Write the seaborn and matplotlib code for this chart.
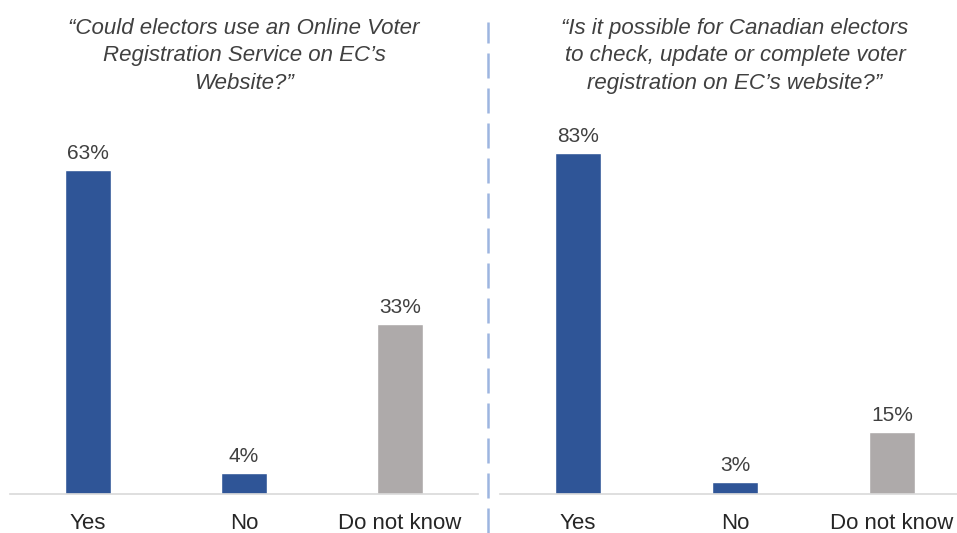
import matplotlib
matplotlib.use("Agg")
import matplotlib.pyplot as plt
from matplotlib.lines import Line2D
import seaborn as sns
import pandas as pd

categories = ["Yes", "No", "Do not know"]
online_service = [63, 4, 33]
check_update = [83, 3, 15]
title_left = "\u201cCould electors use an Online Voter\nRegistration Service on EC\u2019s\nWebsite?\u201d"
title_right = "\u201cIs it possible for Canadian electors\nto check, update or complete voter\nregistration on EC\u2019s website?\u201d"

BLUE = "#2F5597"
GREY = "#AEAAAA"
palette = {"Yes": BLUE, "No": BLUE, "Do not know": GREY}

sns.set_theme(style="white")
plt.rcParams["font.family"] = ["Liberation Sans", "DejaVu Sans"]

W, H = 957, 533
fig = plt.figure(figsize=(W / 100, H / 100), dpi=100)


def px_axes(left, bottom_from_top, width, top_from_top):
    return fig.add_axes([left / W, 1 - bottom_from_top / H, width / W,
                         (bottom_from_top - top_from_top) / H])


def panel(ax, values, ymax, xmax):
    df = pd.DataFrame({"cat": categories, "val": values})
    sns.barplot(data=df, x="cat", y="val", hue="cat", palette=palette,
                width=0.295, legend=False, ax=ax, saturation=1)
    ax.set_xlim(-0.5, xmax)
    ax.set_ylim(0, ymax)
    for cont in ax.containers:
        ax.bar_label(cont, fmt="%.0f%%", padding=5, fontsize=15, color="#404040")
    ax.set_xlabel("")
    ax.set_ylabel("")
    ax.set_yticks([])
    for s in ["top", "right", "left"]:
        ax.spines[s].set_visible(False)
    ax.spines["bottom"].set_color("#D9D9D9")
    ax.spines["bottom"].set_linewidth(1.2)
    ax.tick_params(axis="x", length=0, pad=14, labelsize=16, colors="#262626")
    ax.patch.set_alpha(0)


ax1 = px_axes(10, 494, 468, 140)
panel(ax1, online_service, 354 / 5.14, 2.5)
ax2 = px_axes(499.5, 494, 457.5, 140)
panel(ax2, check_update, 354 / 4.11, -0.5 + 457.5 / 157)

fig.text(244 / W, 1 - 56 / H, title_left, ha="center", va="center",
         style="italic", fontsize=16, color="#404040", linespacing=1.42)
fig.text(735 / W, 1 - 56 / H, title_right, ha="center", va="center",
         style="italic", fontsize=16, color="#404040", linespacing=1.42)

fig.add_artist(Line2D([488 / W, 488 / W], [0, 1 - 22 / H], transform=fig.transFigure,
                      color="#9DB5E0", linewidth=1.8, linestyle=(0, (10, 4))))

fig.savefig("out.png", dpi=100, facecolor="white")
